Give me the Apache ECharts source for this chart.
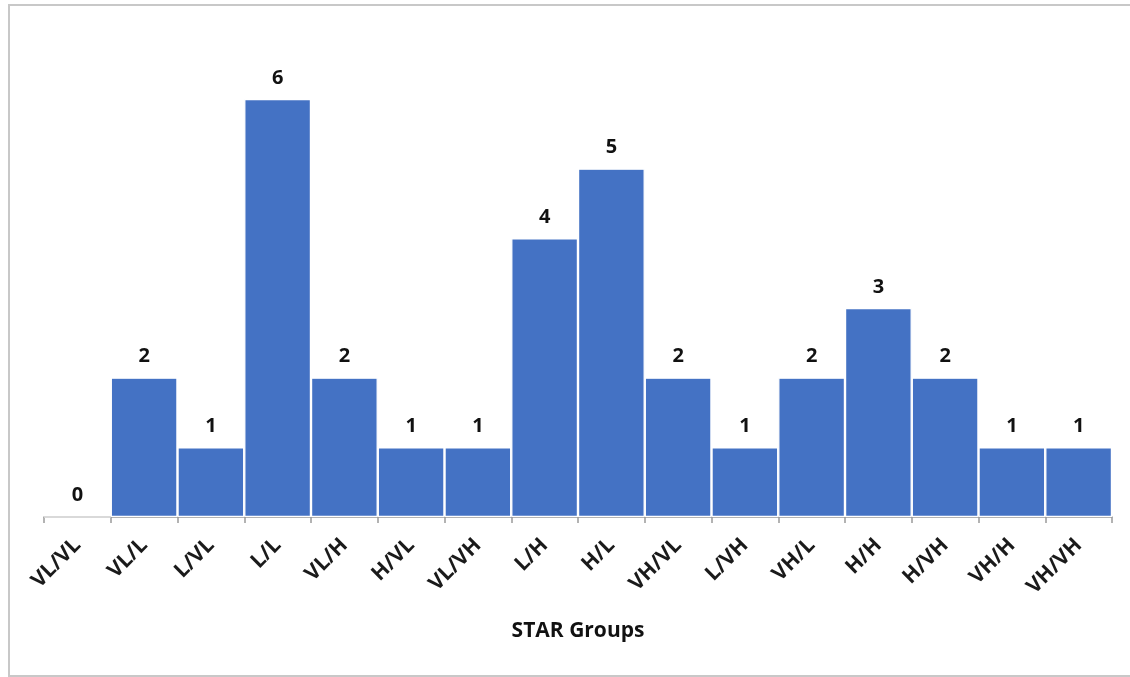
<!DOCTYPE html>
<html>
<head>
<meta charset="utf-8">
<script src="https://cdn.jsdelivr.net/npm/echarts@6/dist/echarts.min.js"></script>
<style>
  html, body { margin: 0; padding: 0; background: #fff; overflow: hidden; }
  #frame { position: absolute; left: 8px; top: 4px; width: 1140px; height: 673px; border: 2px solid #c8c8c8; box-sizing: border-box; }
  #chart { position: absolute; left: 0; top: 0; width: 1130px; height: 677px; }
</style>
</head>
<body>
<div id="frame"></div>
<div id="chart"></div>
<script>
// STAR group combinations and the count in each
const categories = ['VL/VL', 'VL/L', 'L/VL', 'L/L', 'VL/H', 'H/VL', 'VL/VH', 'L/H', 'H/L', 'VH/VL', 'L/VH', 'VH/L', 'H/H', 'H/VH', 'VH/H', 'VH/VH'];
const counts = [0, 2, 1, 6, 2, 1, 1, 4, 5, 2, 1, 2, 3, 2, 1, 1];
const axisTitle = 'STAR Groups';

const chart = echarts.init(document.getElementById('chart'), null, { renderer: 'canvas' });
const font = '"Open Sans", "Noto Sans", sans-serif';

chart.setOption({
  animation: false,
  grid: { left: 44, right: 18, top: 99, bottom: 160 },
  xAxis: {
    type: 'category',
    data: categories,
    name: axisTitle,
    nameLocation: 'middle',
    nameGap: 104,
    nameTextStyle: { fontFamily: font, fontWeight: 'bold', fontSize: 21, color: '#111' },
    axisLine: { lineStyle: { color: '#9a9a9a', width: 1.5 } },
    axisTick: { show: true, length: 6, lineStyle: { color: '#9a9a9a', width: 1.5 } },
    axisLabel: {
      interval: 0, rotate: 45, margin: 25,
      fontFamily: font, fontWeight: 'bold', fontSize: 21, color: '#1a1a1a'
    }
  },
  yAxis: {
    type: 'value', min: 0, max: 6, interval: 1,
    show: false
  },
  series: [{
    type: 'bar',
    data: counts,
    barCategoryGap: 0,
    itemStyle: { color: '#4472C4', borderColor: '#ffffff', borderWidth: 1.2 },
    label: {
      show: true, position: 'top', distance: 11,
      fontFamily: font, fontWeight: 'bold', fontSize: 20, color: '#111'
    }
  }]
});
</script>
</body>
</html>
